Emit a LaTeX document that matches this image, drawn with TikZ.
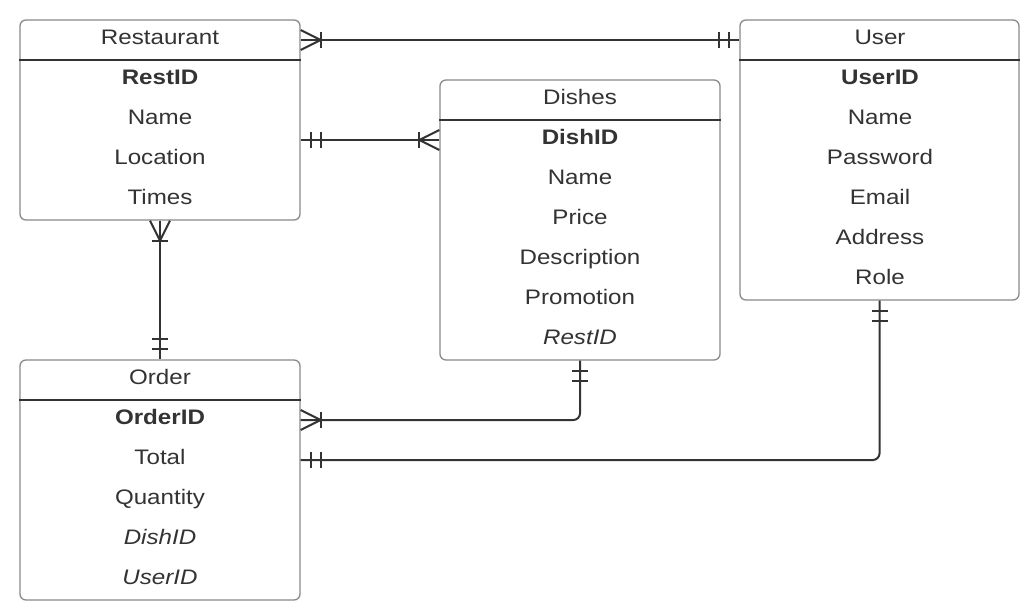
\documentclass[tikz,border=0pt]{standalone}
\usepackage{fontspec}
\setmainfont[FakeStretch=1.15]{Liberation Sans}
\definecolor{ink}{HTML}{333333}
\definecolor{frame}{HTML}{8A8A8A}
\begin{document}
\begin{tikzpicture}[x=0.75pt,y=-0.75pt,
  entity/.style={draw=frame,line width=1pt,rounded corners=4.5pt,minimum width=210pt,inner sep=0pt,fill=white},
  hdr/.style={draw=ink,line width=0.8pt},
  txt/.style={anchor=base,text=ink,font=\fontsize{15.75}{18}\selectfont,inner sep=0pt},
  conn/.style={draw=ink,line width=1.5pt},
  tick/.style={draw=ink,line width=1.5pt}]
\useasboundingbox (0,0) rectangle (1020,615);
\fill[white] (0,0) rectangle (1020,615);

% Entities
\node[entity,minimum height=150pt] (rest) at (160,120) {};
\node[entity,minimum height=210pt,minimum width=209.25pt] (user) at (879.5,160) {};
\node[entity,minimum height=210pt] (dish) at (580,220) {};
\node[entity,minimum height=180pt] (ord) at (160,480) {};

% header lines
\draw[hdr] (rest.west |- 0,60) -- (rest.east |- 0,60);
\draw[hdr] (user.west |- 0,60) -- (user.east |- 0,60);
\draw[hdr] (dish.west |- 0,120) -- (dish.east |- 0,120);
\draw[hdr] (ord.west |- 0,400) -- (ord.east |- 0,400);

% Restaurant
\node[txt] (r0) at (160,44) {Restaurant};
\node[txt] (r1) at (160,84) {\bfseries RestID};
\node[txt] (r2) at (160,124) {Name};
\node[txt] (r3) at (160,164) {Location};
\node[txt] (r4) at (160,204) {Times};

% User
\node[txt] (u0) at (880,44) {User};
\node[txt] (u1) at (880,84) {\bfseries UserID};
\node[txt] (u2) at (880,124) {Name};
\node[txt] (u3) at (880,164) {Password};
\node[txt] (u4) at (880,204) {Email};
\node[txt] (u5) at (880,244) {Address};
\node[txt] (u6) at (880,284) {Role};

% Dishes
\node[txt] (d0) at (580,104) {Dishes};
\node[txt] (d1) at (580,144) {\bfseries DishID};
\node[txt] (d2) at (580,184) {Name};
\node[txt] (d3) at (580,224) {Price};
\node[txt] (d4) at (580,264) {Description};
\node[txt] (d5) at (580,304) {Promotion};
\node[txt] (d6) at (580,344) {\itshape RestID};

% Order
\node[txt] (o0) at (160,384) {Order};
\node[txt] (o1) at (160,424) {\bfseries OrderID};
\node[txt] (o2) at (160,464) {Total};
\node[txt] (o3) at (160,504) {Quantity};
\node[txt] (o4) at (160,544) {\itshape DishID};
\node[txt] (o5) at (160,584) {\itshape UserID};

% connector endpoints
\coordinate (a1) at (rest.east |- 0,40);
\coordinate (b1) at (user.west |- 0,40);
\coordinate (a2) at (rest.east |- 0,140);
\coordinate (b2) at (dish.west |- 0,140);
\coordinate (a3) at (rest.south);
\coordinate (b3) at (ord.north);
\coordinate (a4) at (ord.east |- 0,420);
\coordinate (b4) at (dish.south);
\coordinate (a5) at (ord.east |- 0,460);
\coordinate (b5) at (user.south);

% Restaurant -- User
\draw[conn] (a1) -- (b1);
\draw[tick] (a1) ++(0,-10) -- ++(20,10) -- ++(-20,10);
\draw[tick] (a1) ++(20,-8) -- ++(0,16);
\draw[tick] (b1) ++(-20,-8) -- ++(0,16);
\draw[tick] (b1) ++(-10,-8) -- ++(0,16);

% Restaurant -- Dishes
\draw[conn] (a2) -- (b2);
\draw[tick] (a2) ++(10,-8) -- ++(0,16);
\draw[tick] (a2) ++(20,-8) -- ++(0,16);
\draw[tick] (b2) ++(0,-10) -- ++(-20,10) -- ++(20,10);
\draw[tick] (b2) ++(-20,-8) -- ++(0,16);

% Restaurant -- Order
\draw[conn] (a3) -- (b3);
\draw[tick] (a3) ++(-10,0) -- ++(10,20) -- ++(10,-20);
\draw[tick] (a3) ++(-8,20) -- ++(16,0);
\draw[tick] (b3) ++(-8,-20) -- ++(16,0);
\draw[tick] (b3) ++(-8,-10) -- ++(16,0);

% Order -- Dishes
\draw[conn,rounded corners=5pt] (a4) -| (b4);
\draw[tick] (a4) ++(0,-10) -- ++(20,10) -- ++(-20,10);
\draw[tick] (a4) ++(20,-8) -- ++(0,16);
\draw[tick] (b4) ++(-8,10) -- ++(16,0);
\draw[tick] (b4) ++(-8,20) -- ++(16,0);

% Order -- User
\draw[conn,rounded corners=5pt] (a5) -| (b5);
\draw[tick] (a5) ++(10,-8) -- ++(0,16);
\draw[tick] (a5) ++(20,-8) -- ++(0,16);
\draw[tick] (b5) ++(-8,10) -- ++(16,0);
\draw[tick] (b5) ++(-8,20) -- ++(16,0);
\end{tikzpicture}
\end{document}
